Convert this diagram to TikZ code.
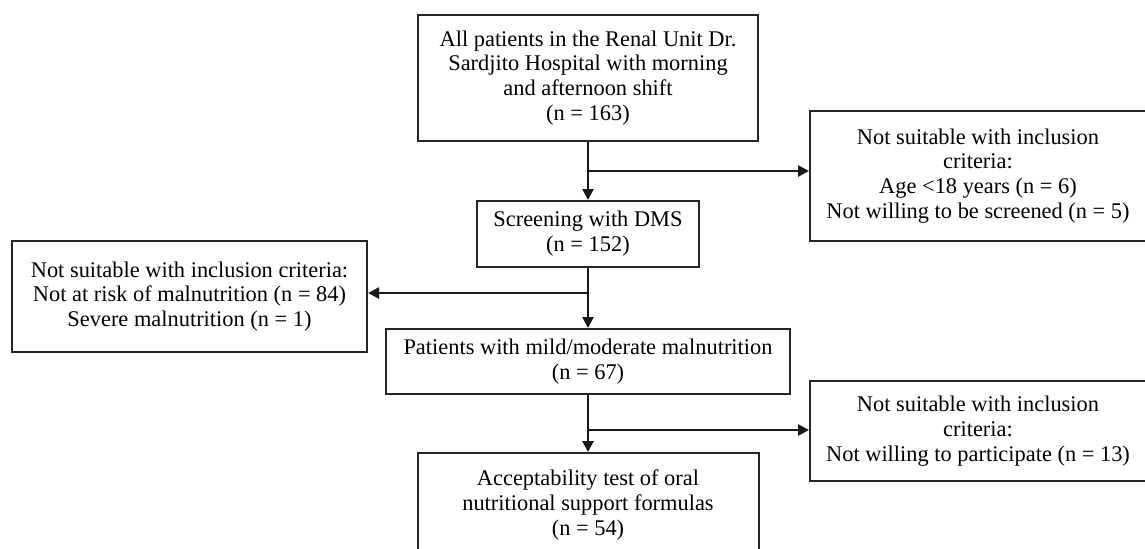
\documentclass[tikz,border=0pt]{standalone}
\usepackage{fontspec}
\setmainfont{Liberation Serif}
\usepackage{tikz}
\usetikzlibrary{arrows.meta,positioning,calc}

\begin{document}
\begin{tikzpicture}[
    x=0.5pt, y=-0.5pt,
    box/.style={draw=black!85, line width=1pt, align=center, inner sep=2pt, font=\fontsize{11.2}{12.4}\selectfont},
    arr/.style={-{Triangle[length=5.5pt,width=5.5pt]}, line width=1.3pt, black!90}
]
\useasboundingbox (0,0) rectangle (1145,548);
\clip (0,0) rectangle (1145,548);

\node[box, minimum width=170pt, minimum height=63pt] (all) at (588,78) {All patients in the Renal Unit Dr.\\Sardjito Hospital with morning\\and afternoon shift\\(n = 163)};
\node[box, minimum width=168pt, minimum height=65pt] (excl1) at (978,176) {Not suitable with inclusion\\criteria:\\Age <18 years (n = 6)\\Not willing to be screened (n = 5)};
\node[box, minimum width=111pt, minimum height=33pt] (screen) at (588,234) {Screening with DMS\\(n = 152)};
\node[box, minimum width=177.5pt, minimum height=55.5pt] (excl2) at (189.5,296.5) {Not suitable with inclusion criteria:\\Not at risk of malnutrition (n = 84)\\Severe malnutrition (n = 1)};
\node[box, minimum width=202pt, minimum height=32.5pt] (mild) at (588,361.5) {Patients with mild/moderate malnutrition\\(n = 67)};
\node[box, minimum width=168pt, minimum height=50pt] (excl3) at (978,431) {Not suitable with inclusion\\criteria:\\Not willing to participate (n = 13)};
\node[box, minimum width=170.5pt, minimum height=52pt] (accept) at (588,505) {Acceptability test of oral\\nutritional support formulas\\(n = 54)};

\coordinate (b1) at (588,171);
\coordinate (b2) at (588,293);
\coordinate (b3) at (588,430);

\draw[arr] (all.south) -- (screen.north);
\draw[arr] (b1) -- (b1 -| excl1.west);
\draw[arr] (screen.south) -- (mild.north);
\draw[arr] (b2) -- (b2 -| excl2.east);
\draw[arr] (mild.south) -- (accept.north);
\draw[arr] (b3) -- (b3 -| excl3.west);
\end{tikzpicture}
\end{document}
